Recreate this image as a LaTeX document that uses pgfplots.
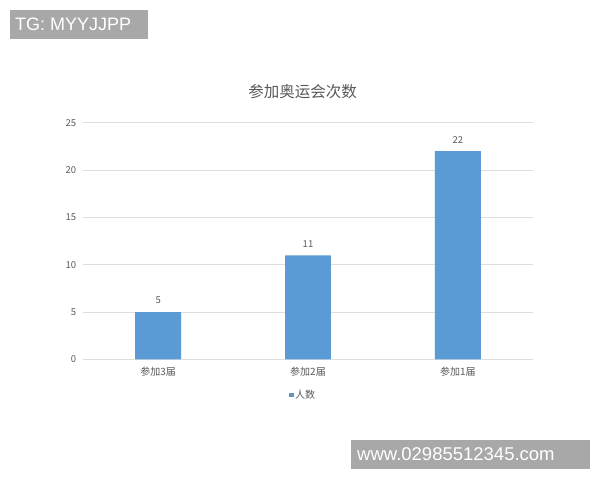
\documentclass[border=0pt]{standalone}
\usepackage{pgfplots}
\pgfplotsset{compat=1.18}
\usepackage{fontspec}
\setmainfont{Noto Sans CJK SC}
\newfontfamily\wmfont{Liberation Sans}
\definecolor{barblue}{HTML}{5B9BD5}
\definecolor{gridgray}{HTML}{DDDDDD}
\definecolor{textgray}{HTML}{595959}
\definecolor{wmgray}{HTML}{A8A8A8}
\begin{document}
\begin{tikzpicture}
 % page frame: 1pt = 1px of the reference
 \useasboundingbox (0,0) rectangle (600pt,480pt);
 \fill[white] (0,0) rectangle (600pt,480pt);
 \begin{axis}[
  at={(83.3pt,120.6pt)},
  anchor=south west,
  scale only axis,
  width=449.4pt,
  height=236.7pt,
  ybar,
  bar width=0.307,
  xmin=-0.5, xmax=2.5,
  ymin=0, ymax=25,
  ytick={0,5,10,15,20,25},
  xtick={0,1,2},
  xticklabels={参加3届, 参加2届, 参加1届},
  major tick length=0pt,
  axis line style={draw=none},
  ymajorgrids,
  grid style={gridgray, line width=0.8pt},
  /pgf/number format/assume math mode=true,
  tick label style={textgray},
  yticklabel style={font=\fontsize{9.5}{11}\selectfont, anchor=east, inner sep=0pt, xshift=-7pt},
  xticklabel style={font=\fontsize{10}{12}\selectfont, anchor=center, inner sep=0pt, yshift=-12.3pt},
  title={参加奥运会次数},
  title style={font=\fontsize{15.5}{18}\selectfont, textgray, at={(0.5,1)}, anchor=center, yshift=24.7pt, xshift=-5.5pt},
  nodes near coords,
  every node near coord/.append style={font=\fontsize{9.5}{11}\selectfont, textgray, anchor=center, inner sep=0pt, yshift=11.5pt},
  legend style={at={(0.5,0)}, anchor=center, yshift=-35.6pt, xshift=-5pt, draw=none, fill=none,
   font=\fontsize{10}{12}\selectfont, text=textgray, inner sep=0pt,
   nodes={inner sep=1.5pt}},
  legend image code/.code={\fill[barblue!75!gray] (0pt,-2.2pt) rectangle (4.4pt,2.2pt);},
 ]
  \addplot[draw=none, fill=barblue] coordinates {
   (0, 5)
   (1, 11)
   (2, 22)};
  \legend{人数}
 \end{axis}
 % watermark boxes
 \fill[wmgray] (10pt,441pt) rectangle (148pt,470pt);
 \node[anchor=west, inner sep=0pt, white, font=\wmfont\fontsize{18}{20}\selectfont] at (15pt,455.5pt) {TG: MYYJJPP};
 \fill[wmgray] (351pt,11pt) rectangle (590pt,40pt);
 \node[anchor=west, inner sep=0pt, white, font=\wmfont\fontsize{18.5}{20}\selectfont] at (357pt,25.5pt) {www.02985512345.com};
\end{tikzpicture}
\end{document}
